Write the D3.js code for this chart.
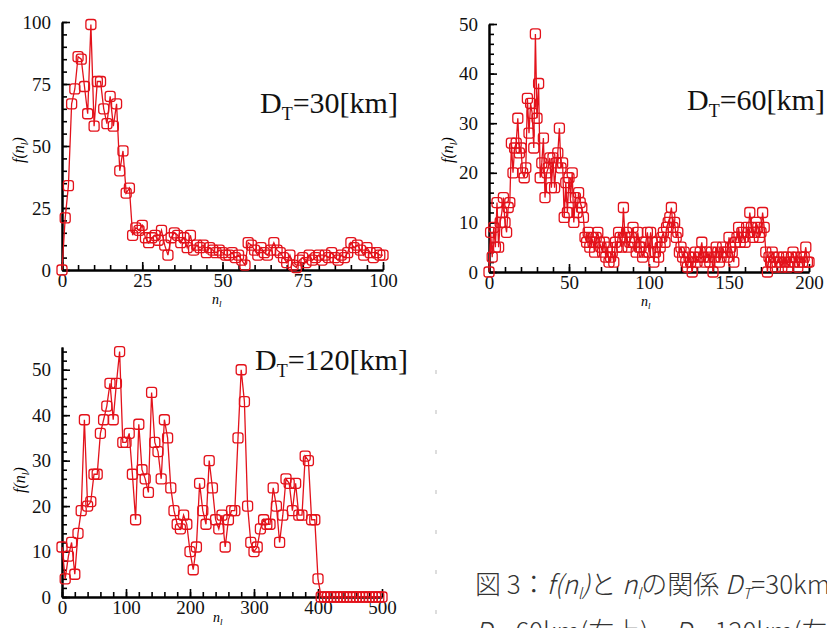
<!DOCTYPE html>
<html>
<head>
<meta charset="utf-8">
<script src="https://cdn.jsdelivr.net/npm/d3@7"></script>
<style>
body { margin: 0; background: #fff; }
svg { display: block; }
</style>
</head>
<body>
<script>
// D_T = 30 km, n_l = 0..100 (step 1)
var step30 = 1;
var f30 = [0, 21, 34, 67, 73, 86, 85, 74, 63, 99,
  58, 76, 76, 65, 59, 70, 58, 67, 40, 48,
  31, 33, 14, 17, 16, 18, 13, 11, 13, 14,
  12, 16, 10, 6, 13, 15, 14, 11, 13, 9,
  14, 8, 10, 9, 10, 7, 9, 8, 7, 8,
  7, 6, 6, 7, 5, 6, 4, 2, 11, 10,
  8, 6, 9, 7, 6, 8, 11, 8, 7, 5,
  3, 6, 2, 1, 4, 5, 3, 6, 4, 5,
  6, 4, 6, 5, 7, 5, 4, 6, 5, 7,
  11, 9, 10, 8, 6, 9, 7, 5, 7, 6,
  6];
var xTicks30 = [0, 25, 50, 75, 100];
var yTicks30 = [0, 25, 50, 75, 100];

// D_T = 60 km, n_l = 0..200 (step 1)
var step60 = 1;
var f60 = [0, 8, 3, 9, 5, 14, 5, 10, 12, 15,
  10, 8, 13, 14, 26, 20, 25, 26, 31, 24,
  25, 20, 19, 21, 35, 28, 34, 32, 25, 48,
  31, 38, 19, 22, 27, 15, 20, 21, 23, 17,
  23, 17, 22, 24, 29, 21, 22, 11, 18, 12,
  19, 15, 20, 10, 15, 12, 16, 14, 13, 11,
  7, 6, 8, 5, 7, 6, 4, 7, 8, 6,
  5, 4, 6, 3, 5, 2, 3, 4, 2, 6,
  5, 8, 7, 5, 13, 7, 8, 5, 6, 7,
  9, 6, 4, 8, 5, 5, 3, 4, 6, 8,
  4, 8, 6, 2, 4, 6, 3, 5, 7, 8,
  6, 9, 10, 11, 13, 9, 10, 7, 8, 4,
  5, 3, 4, 2, 1, 3, 2, 0, 3, 4,
  2, 3, 4, 6, 3, 2, 4, 3, 2, 4,
  0, 3, 5, 4, 2, 3, 5, 4, 4, 3,
  7, 5, 4, 2, 6, 7, 9, 6, 8, 7,
  6, 9, 8, 12, 9, 7, 8, 10, 9, 7,
  8, 12, 9, 4, 0, 3, 2, 4, 3, 1,
  2, 3, 2, 1, 3, 2, 3, 1, 2, 3,
  4, 2, 3, 1, 2, 3, 2, 3, 5, 2,
  2];
var xTicks60 = [0, 50, 100, 150, 200];
var yTicks60 = [0, 10, 20, 30, 40, 50];

// D_T = 120 km, n_l = 0..500 (step 5)
var step120 = 5;
var f120 = [11, 4, 9, 12, 5, 14, 19, 39, 20, 21,
  27, 27, 36, 39, 42, 47, 39, 47, 54, 34,
  34, 36, 27, 17, 38, 28, 26, 23, 45, 34,
  32, 26, 39, 35, 24, 19, 16, 15, 18, 16,
  10, 6, 11, 25, 19, 16, 30, 24, 17, 15,
  18, 11, 17, 19, 19, 35, 50, 43, 20, 12,
  10, 11, 15, 17, 16, 16, 24, 20, 12, 18,
  26, 25, 19, 25, 18, 18, 31, 30, 17, 17,
  4,
  0, 0, 0, 0, 0, 0, 0, 0, 0, 0,
  0, 0, 0, 0, 0, 0, 0, 0, 0, 0];
var xTicks120 = [0, 100, 200, 300, 400, 500];
var yTicks120 = [0, 10, 20, 30, 40, 50];

var red = "#e3121b";
var serif = "'Liberation Serif', 'Times New Roman', serif";

var svg = d3.select("body").append("svg").attr("width", 827).attr("height", 628);

function drawPanel(p) {
  var x = d3.scaleLinear().domain(p.xDomain).range([p.left, p.right]);
  var y = d3.scaleLinear().domain(p.yDomain).range([p.bottom, p.top]);
  var g = svg.append("g");

  var pts = p.values.map(function(v, i) {
    return { n: i * p.step, v: v };
  });

  // minor ticks first, then major axis with labels
  g.append("g").attr("transform", "translate(0," + p.bottom + ")")
    .call(d3.axisBottom(x).tickValues(d3.range(p.xDomain[0], p.xDomain[1] + 0.001, p.xMinor))
      .tickSize(-5).tickSizeOuter(0).tickFormat(""))
    .call(styleAxis);
  g.append("g").attr("transform", "translate(" + p.left + ",0)")
    .call(d3.axisLeft(y).tickValues(d3.range(p.yDomain[0], p.yDomain[1] + 0.001, p.yMinor))
      .tickSize(-5).tickSizeOuter(0).tickFormat(""))
    .call(styleAxis);

  g.append("g").attr("transform", "translate(0," + p.bottom + ")")
    .call(d3.axisBottom(x).tickValues(p.xTicks).tickSize(-8).tickSizeOuter(0).tickPadding(4))
    .call(styleAxis);
  g.append("g").attr("transform", "translate(" + p.left + ",0)")
    .call(d3.axisLeft(y).tickValues(p.yTicks).tickSize(-8).tickSizeOuter(0).tickPadding(11))
    .call(styleAxis);

  var line = d3.line().x(function(d) { return x(d.n); }).y(function(d) { return y(d.v); });
  g.append("path").datum(pts).attr("d", line)
    .attr("fill", "none").attr("stroke", red).attr("stroke-width", 1.3);

  g.selectAll("rect.m").data(pts).enter().append("rect").attr("class", "m")
    .attr("x", function(d) { return x(d.n) - 5; })
    .attr("y", function(d) { return y(d.v) - 5; })
    .attr("width", 10).attr("height", 10).attr("rx", 2.5)
    .attr("fill", "none").attr("stroke", red).attr("stroke-width", 1.3);

  // axis titles
  var yt = g.append("text")
    .attr("transform", "translate(" + p.yTitle[0] + "," + p.yTitle[1] + ") rotate(-90)")
    .attr("text-anchor", "middle")
    .style("font-family", serif).style("font-style", "italic").style("font-size", "16px");
  yt.append("tspan").text("f(n");
  yt.append("tspan").attr("dy", 4).style("font-size", "10px").text("l");
  yt.append("tspan").attr("dy", -4).text(")");

  var xt = g.append("text").attr("x", p.xTitle[0]).attr("y", p.xTitle[1])
    .style("font-family", serif).style("font-style", "italic").style("font-size", "14px");
  xt.append("tspan").text("n");
  xt.append("tspan").attr("dy", 3).style("font-size", "9px").text("l");

  var t = g.append("text").attr("x", p.label[0]).attr("y", p.label[1])
    .style("font-family", serif).style("font-size", "30px").attr("fill", "#111");
  t.append("tspan").text("D");
  t.append("tspan").attr("dy", 7).style("font-size", "18px").text("T");
  t.append("tspan").attr("dy", -7).text("=" + p.dt + "[km]");
}

function styleAxis(sel) {
  sel.select(".domain").attr("stroke", "#000").attr("stroke-width", 2);
  sel.selectAll(".tick line").attr("stroke", "#000").attr("stroke-width", 1.6);
  sel.selectAll(".tick text").attr("fill", "#111")
    .style("font-family", serif).style("font-size", "19px");
}

drawPanel({
  values: f30, step: step30, dt: 30,
  xDomain: [0, 100], yDomain: [0, 100], xTicks: xTicks30, yTicks: yTicks30,
  xMinor: 5, yMinor: 5,
  left: 62, right: 383, top: 22, bottom: 270,
  yTitle: [24, 150], xTitle: [212, 304], label: [260, 113]
});

drawPanel({
  values: f60, step: step60, dt: 60,
  xDomain: [0, 200], yDomain: [0, 50], xTicks: xTicks60, yTicks: yTicks60,
  xMinor: 10, yMinor: 2,
  left: 489, right: 809, top: 24, bottom: 272,
  yTitle: [453, 150], xTitle: [641, 306], label: [687, 110]
});

drawPanel({
  values: f120, step: step120, dt: 120,
  xDomain: [0, 500], yDomain: [0, 55], xTicks: xTicks120, yTicks: yTicks120,
  xMinor: 20, yMinor: 2,
  left: 62, right: 382, top: 347, bottom: 597,
  yTitle: [25, 480], xTitle: [213, 622], label: [255, 370]
});

// faint marks of a neighbouring frame
var stubY = [372, 412, 452, 492, 532, 572, 612];
svg.selectAll("line.stub").data(stubY).enter().append("line").attr("class", "stub")
  .attr("x1", 436).attr("x2", 436)
  .attr("y1", function(d) { return d - 2; }).attr("y2", function(d) { return d + 2; })
  .attr("stroke", "#bbb").attr("stroke-width", 1);

// caption (cut at the right and bottom edge as in the source)
var jp = "'Noto Sans CJK JP', 'Noto Sans', sans-serif";
var c1 = svg.append("text").attr("x", 475).attr("y", 594)
  .style("font-family", jp).style("font-weight", 300).style("font-size", "26px").attr("fill", "#333");
c1.append("tspan").text("図 3：");
c1.append("tspan").style("font-style", "italic").text("f(n");
c1.append("tspan").style("font-style", "italic").style("font-size", "15px").attr("dy", 5).text("l");
c1.append("tspan").style("font-style", "italic").attr("dy", -5).text(")");
c1.append("tspan").text("と ");
c1.append("tspan").style("font-style", "italic").text("n");
c1.append("tspan").style("font-style", "italic").style("font-size", "15px").attr("dy", 5).text("l");
c1.append("tspan").attr("dy", -5).text("の関係 ");
c1.append("tspan").style("font-style", "italic").text("D");
c1.append("tspan").style("font-style", "italic").style("font-size", "15px").attr("dy", 5).text("T");
c1.append("tspan").attr("dy", -5).text("=30km(左上)，");

var c2 = svg.append("text").attr("x", 475).attr("y", 641)
  .style("font-family", jp).style("font-weight", 300).style("font-size", "26px").attr("fill", "#333");
c2.append("tspan").style("font-style", "italic").text("D");
c2.append("tspan").style("font-style", "italic").style("font-size", "15px").attr("dy", 5).text("T");
c2.append("tspan").attr("dy", -5).text("=60km(右上)，");
c2.append("tspan").style("font-style", "italic").text("D");
c2.append("tspan").style("font-style", "italic").style("font-size", "15px").attr("dy", 5).text("T");
c2.append("tspan").attr("dy", -5).text("=120km(左下)");
</script>
</body>
</html>
